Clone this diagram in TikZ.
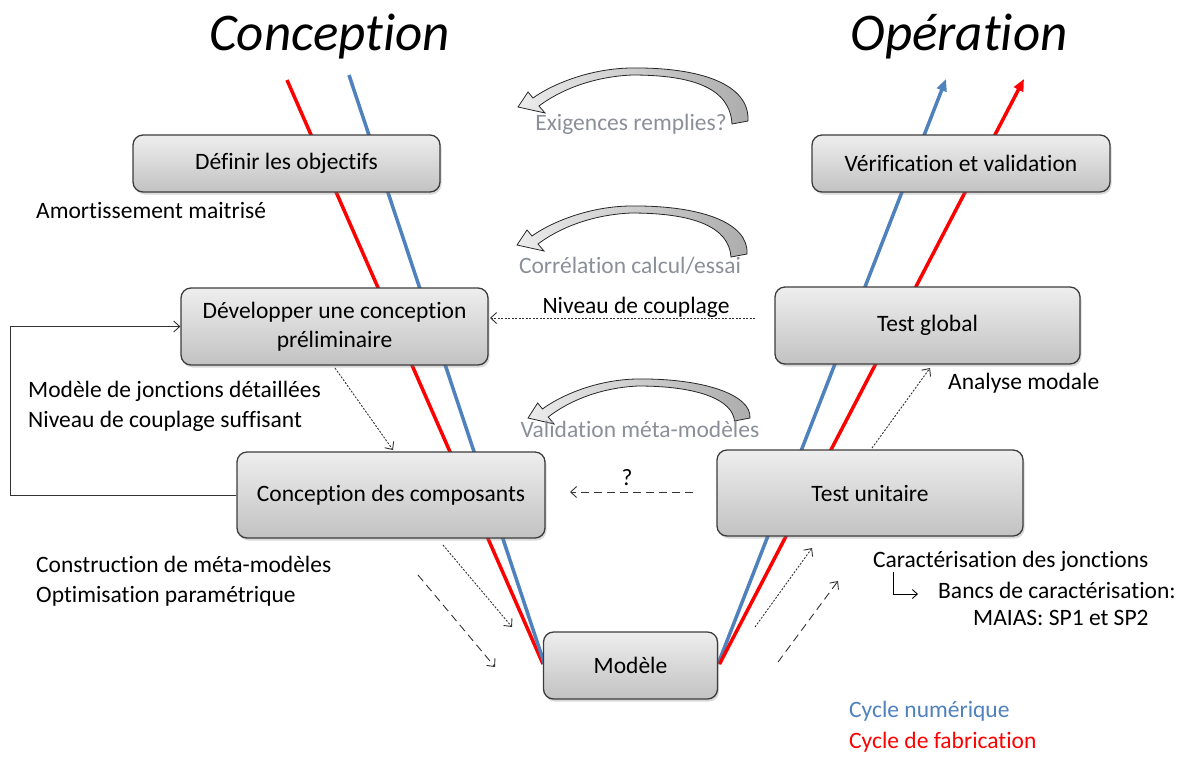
\documentclass[tikz,border=0pt]{standalone}
\usepackage{fontspec}
\setmainfont{Carlito}[RawFeature={-liga;-clig;-calt;-dlig}]
\usetikzlibrary{arrows.meta,shadows}
\definecolor{cyclblue}{RGB}{79,129,189}
\definecolor{cyclred}{RGB}{255,0,0}
\definecolor{notegray}{RGB}{138,143,152}
\definecolor{boxtop}{RGB}{238,238,238}
\definecolor{boxbot}{RGB}{194,194,194}
\definecolor{boxline}{RGB}{60,60,60}

\tikzset{
  stage/.style={draw=boxline, line width=1.3pt, rounded corners=10pt,
    top color=boxtop, bottom color=boxbot, align=center,
    font=\fontsize{23.5}{29}\selectfont,
    drop shadow={shadow xshift=1.5pt, shadow yshift=-2.5pt, opacity=0.3}},
  note/.style={font=\fontsize{23.5}{29}\selectfont, text height=16pt,
    text depth=5pt, inner sep=0pt, anchor=west},
  graynote/.style={note, anchor=center, text=notegray},
  title/.style={font=\fontsize{53}{60}\selectfont\itshape, anchor=base, inner sep=0pt},
  cycle/.style={line width=3.5pt},
  thinarrow/.style={draw=black!80, line width=0.9pt,
    -{Straight Barb[length=6pt,width=11pt]}},
  dotarrow/.style={thinarrow, dash pattern=on 2pt off 1.5pt},
  dasharrow/.style={thinarrow, dash pattern=on 8pt off 5pt},
  % curved block arrow; the argument is how far the tail drops below the tip
  curvearrow/.pic={
    \shade[left color=gray!15, right color=gray!65, draw=black!85, line width=0.8pt]
      (230,#1) .. controls (232,-23) and (182,-40) .. (112,-39)
      .. controls (67,-38) and (30,-20) .. (15,-9)
      -- (10,-15) -- (0,0) -- (27,6) -- (21,-1)
      .. controls (38,-14) and (70,-30) .. (114,-32)
      .. controls (177,-32) and (212,-18) .. (214,#1+3) -- cycle;
  }
}

\begin{document}
\begin{tikzpicture}[x=1pt,y=-1pt]
\useasboundingbox (0,0) rectangle (1182,756);

% titles
\node[title] (tconc) at (329.5,50) {Conception};
\node[title] (toper) at (959,50) {Opération};

% the two cycles of the V
\coordinate (lredtop) at (287,80);
\coordinate (lbluetop) at (349,75);
\coordinate (lbottom) at (543,664);
\coordinate (rbottom) at (718,664);
\coordinate (rbluetop) at (946,79);
\coordinate (rredtop) at (1024,79);
\draw[cycle, cyclred] (lredtop) -- (lbottom);
\draw[cycle, cyclblue] (lbluetop) -- ([xshift=1.5pt]lbottom);
\draw[cycle, cyclblue, -{Triangle[length=12pt,width=10pt]}] (rbottom) -- (rbluetop);
\draw[cycle, cyclred, -{Triangle[length=12pt,width=10pt]}] ([xshift=1.5pt]rbottom) -- (rredtop);

% stages
\node[stage, minimum width=307pt, minimum height=57pt] (b1) at (286.5,163.5) {Définir les objectifs};
\node[stage, minimum width=298pt, minimum height=57pt] (b2) at (961,163.5) {Vérification et validation};
\node[stage, minimum width=307pt, minimum height=77pt] (b3) at (334.5,326.5) {Développer une conception\\préliminaire};
\node[stage, minimum width=305pt, minimum height=77pt] (b4) at (927.5,325.5) {Test global};
\node[stage, minimum width=308pt, minimum height=86pt] (b5) at (391,495) {Conception des composants};
\node[stage, minimum width=306pt, minimum height=86pt] (b6) at (870,493) {Test unitaire};
\node[stage, minimum width=174pt, minimum height=67pt] (b7) at (630.5,665.5) {Modèle};

% curved return arrows and their labels
\pic at (518,107) {curvearrow=14};
\pic at (517,245) {curvearrow=9};
\pic[xscale=0.965] at (528,418) {curvearrow=0};
\node[graynote] (g1) at (631,125) {Exigences remplies?};
\node[graynote] (g2) at (630,268) {Corrélation calcul/essai};
\node[graynote] (g3) at (640,432) {Validation méta-modèles};

% annotations
\node[note] (n1) at (36,213) {Amortissement maitrisé};
\node[note, anchor=center] (n2) at (636,308) {Niveau de couplage};
\node[note] (n3) at (28,392) {Modèle de jonctions détaillées};
\node[note] (n4) at (28,422) {Niveau de couplage suffisant};
\node[note, anchor=center] (n5) at (627,480) {?};
\node[note] (n6) at (948,384) {Analyse modale};
\node[note] (n7) at (36,567) {Construction de méta-modèles};
\node[note] (n8) at (36,597) {Optimisation paramétrique};
\node[note] (n9) at (873,562) {Caractérisation des jonctions};
\node[note] (n10) at (938,593) {Bancs de caractérisation:};
\node[note] (n11) at (973,620) {MAIAS: SP1 et SP2};
\node[note, text=cyclblue] (n12) at (849,712) {Cycle numérique};
\node[note, text=cyclred] (n13) at (849,743) {Cycle de fabrication};

% feedback loop from component design to preliminary design
\draw[thinarrow] (b5.west) -- ++(-226,0) |- (b3.west);

% information flows
\coordinate (c1a) at (755,318);
\coordinate (c1b) at (490,318);
\draw[dotarrow] (c1a) -- (c1b);
\coordinate (c2a) at (335,368);
\coordinate (c2b) at (393,450);
\draw[dotarrow] (c2a) -- (c2b);
\coordinate (c3a) at (693,492);
\coordinate (c3b) at (570,492);
\draw[dasharrow] (c3a) -- (c3b);
\coordinate (c4a) at (872,448);
\coordinate (c4b) at (930,368);
\draw[dotarrow] (c4a) -- (c4b);
\coordinate (c5a) at (443,545);
\coordinate (c5b) at (512,627);
\draw[dotarrow] (c5a) -- (c5b);
\coordinate (c6a) at (418,575);
\coordinate (c6b) at (495,667);
\draw[dasharrow] (c6a) -- (c6b);
\coordinate (c7a) at (755,627);
\coordinate (c7b) at (812,548);
\draw[dotarrow] (c7a) -- (c7b);
\coordinate (c8a) at (778,662);
\coordinate (c8b) at (838,581);
\draw[dasharrow] (c8a) -- (c8b);

% hook arrow towards the test benches
\coordinate (h1) at (893,572);
\coordinate (h2) at (918,594);
\draw[draw=black, line width=0.9pt, -{Straight Barb[length=5pt,width=9pt]}] (h1) |- (h2);
\end{tikzpicture}
\end{document}
